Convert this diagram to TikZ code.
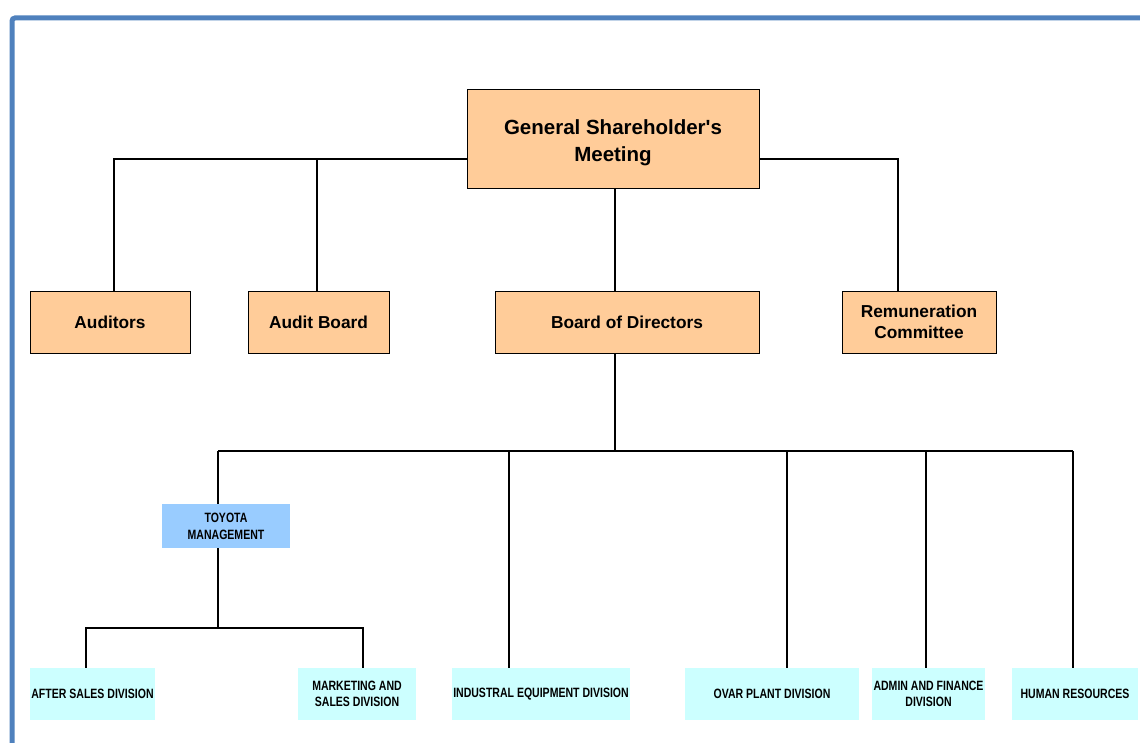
\documentclass[tikz,border=0pt]{standalone}
\usepackage{fontspec}
\setmainfont{Liberation Sans}
\newfontfamily\narrowfont[FakeStretch=0.78]{Liberation Sans}
\usetikzlibrary{shadows}
\definecolor{frameblue}{HTML}{4F81BD}
\definecolor{boardorange}{HTML}{FFCC99}
\definecolor{mgmtblue}{HTML}{99CCFF}
\definecolor{divcyan}{HTML}{CCFFFF}
\tikzset{
  orgbox/.style={draw=black,line width=0.9pt,fill=boardorange,inner sep=0pt,align=center,
    drop shadow={shadow xshift=1.2pt,shadow yshift=-1.2pt,fill=black,opacity=1},
    font=\fontsize{17.3}{21.6}\selectfont\bfseries},
  divbox/.style={fill=divcyan,inner sep=0pt,align=center,minimum height=52pt,
    font=\narrowfont\fontsize{13.5}{16}\selectfont\bfseries},
  conn/.style={line width=1.6pt,black}
}

\begin{document}
\begin{tikzpicture}[x=1pt,y=-1pt]
\useasboundingbox (0,0) rectangle (1140,743);
\draw[frameblue,line width=5pt,rounded corners=3pt] (12,760) -- (12,18) -- (1160,18);

\node[orgbox,minimum width=292pt,minimum height=99pt,font=\fontsize{20.5}{27}\selectfont\bfseries] (gsm) at (613,138.5) {\rule{0pt}{24pt}General Shareholder\textquotesingle s\\Meeting};
\node[orgbox,minimum width=160pt,minimum height=62pt] (aud) at (110,322) {Auditors};
\node[orgbox,minimum width=141pt,minimum height=62pt] (audb) at (318.5,322) {Audit Board};
\node[orgbox,minimum width=264pt,minimum height=62pt] (bod) at (627,322) {Board of Directors};
\node[orgbox,minimum width=154pt,minimum height=62pt] (rem) at (919,322) {Remuneration\\Committee};

\node[fill=mgmtblue,inner sep=0pt,align=center,minimum width=128pt,minimum height=44pt,
  font=\narrowfont\fontsize{13.5}{17}\selectfont\bfseries] (toy) at (226,526) {TOYOTA\\MANAGEMENT};

\node[divbox,minimum width=125pt] (after) at (92.5,694) {AFTER SALES DIVISION};
\node[divbox,minimum width=118pt] (mkt) at (357,694) {MARKETING AND\\SALES DIVISION};
\node[divbox,minimum width=178pt] (ind) at (541,694) {INDUSTRAL EQUIPMENT DIVISION};
\node[divbox,minimum width=174pt] (ovar) at (772,694) {OVAR PLANT DIVISION};
\node[divbox,minimum width=113pt] (admin) at (928.5,694) {ADMIN AND FINANCE\\DIVISION};
\node[divbox,minimum width=126pt] (hr) at (1075,694) {HUMAN RESOURCES};

\coordinate (t1) at (114,159);
\coordinate (t2) at (317,159);
\coordinate (t4) at (898,159);
\coordinate (mid) at (615,451);
\draw[conn] (t1 -| gsm.west) -- (t1) -- (t1 |- aud.north);
\draw[conn] (t2) -- (t2 |- audb.north);
\draw[conn] (t4 -| gsm.east) -- (t4) -- (t4 |- rem.north);
\draw[conn] (mid |- gsm.south) -- (mid |- bod.north);
\draw[conn] (mid |- bod.south) -- (mid);

\coordinate (b1) at (218,451);
\coordinate (b3) at (509,451);
\coordinate (b4) at (787,451);
\coordinate (b5) at (926,451);
\coordinate (b6) at (1073,451);
\draw[conn] (b1) -- (b6);
\draw[conn] (b1) -- (b1 |- toy.north);
\draw[conn] (b3) -- (b3 |- ind.north);
\draw[conn] (b4) -- (b4 |- ovar.north);
\draw[conn] (b5) -- (b5 |- admin.north);
\draw[conn] (b6) -- (b6 |- hr.north);

\coordinate (m0) at (218,628);
\coordinate (m1) at (86,628);
\coordinate (m2) at (363,628);
\draw[conn] (m0 |- toy.south) -- (m0);
\draw[conn] (m1 |- after.north) -- (m1) -- (m2) -- (m2 |- mkt.north);
\end{tikzpicture}
\end{document}
